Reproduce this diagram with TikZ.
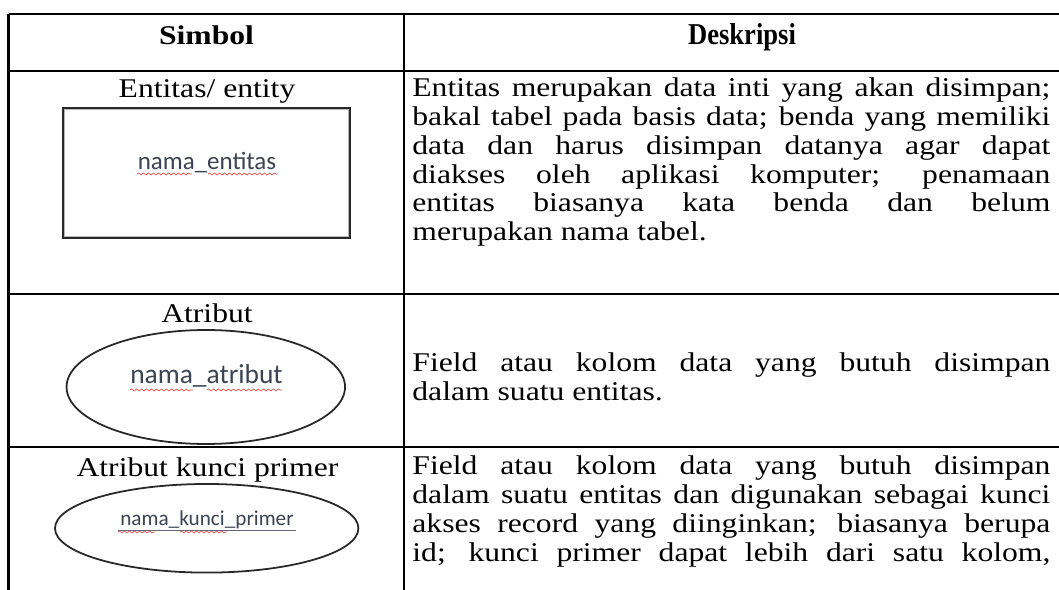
\documentclass[tikz,border=0pt]{standalone}
\usepackage{fontspec}
\usepackage{graphicx}
\setmainfont{Liberation Serif}[FakeStretch=1.17]
\newfontfamily\calibfont{Carlito}
\usetikzlibrary{shapes.geometric,decorations.pathmorphing}
\definecolor{labelink}{RGB}{58,68,82}
\definecolor{spellred}{RGB}{232,70,70}
\definecolor{symline}{RGB}{40,40,40}
\newlength\descw
\setlength\descw{306.75pt}
\newcommand\jline[1]{\makebox[\descw][s]{#1}}
\begin{document}
\begin{tikzpicture}[x=0.4808pt,y=-0.4808pt,
  rule/.style={line width=1.06pt,black},
  head/.style={inner sep=0pt,anchor=base,font=\bfseries\fontsize{13}{15}\selectfont},
  cell/.style={inner sep=0pt,anchor=base west,font=\fontsize{13}{15}\selectfont},
  sym/.style={inner sep=0pt,anchor=base,font=\fontsize{13}{15}\selectfont},
  tag/.style={inner sep=0pt,anchor=base,text=labelink},
  shapeline/.style={draw=symline,line width=0.85pt},
  squig/.style={spellred,line width=0.3pt,decorate,
    decoration={snake,segment length=2.4pt,amplitude=0.5pt}},
  bar/.style={labelink!80,line width=0.45pt},
]
\useasboundingbox (0,0) rectangle (1059,590);
\begin{scope}
\clip (0,0) rectangle (1059,590);

% table rules
\draw[rule] (8.5,14) -- (1100,14);
\draw[rule] (8.5,71) -- (1100,71);
\draw[rule] (8.5,294) -- (1100,294);
\draw[rule] (8.5,447) -- (1100,447);
\draw[rule] (8.5,14) -- (8.5,600);
\draw[rule] (404,14) -- (404,600);

% header
\node[head] (hsym) at (206.5,45) {Simbol};
\node[head] (hdesc) at (742,45) {\scalebox{0.84}[1.12]{Deskripsi}};

% row 1: entity
\node[sym] (t1) at (207,98) {Entitas/ entity};
\node[draw=symline,line width=1.3pt,minimum width=137.5pt,minimum height=62.2pt,inner sep=0pt]
  (ent) at (206.3,173) {};
\draw[gray!55,line width=0.4pt] ([shift={(2.6,2.6)}]ent.north west) rectangle ([shift={(-2.6,-2.6)}]ent.south east);
\node[tag,font=\calibfont\fontsize{12}{14}\selectfont] (entl) at (207,170) {nama\_entitas};
\draw[squig] (137,174) -- (192,174);
\draw[squig] (208,174) -- (278,174);

\node[cell] (d11) at (412,97)    {\jline{Entitas merupakan data inti yang akan disimpan;}};
\node[cell] (d12) at (412,125.7) {\jline{bakal tabel pada basis data; benda yang memiliki}};
\node[cell] (d13) at (412,154.4) {\jline{data dan harus disimpan datanya agar dapat}};
\node[cell] (d14) at (412,183.1) {\jline{diakses oleh aplikasi komputer; penamaan}};
\node[cell] (d15) at (412,211.8) {\jline{entitas biasanya kata benda dan belum}};
\node[cell] (d16) at (412,240.5) {merupakan nama tabel.};

% row 2: attribute
\node[sym] (t2) at (207,323) {Atribut};
\node[shapeline,ellipse,minimum width=133.9pt,minimum height=54.8pt,inner sep=0pt]
  (att) at (205.8,387) {};
\node[tag,font=\calibfont\fontsize{13.2}{15}\selectfont] (attl) at (206.5,384) {nama\_atribut};
\draw[squig] (130,390) -- (193,390);
\draw[squig] (207,390) -- (282,390);

\node[cell] (d21) at (412,372) {\jline{Field atau kolom data yang butuh disimpan}};
\node[cell] (d22) at (412,400.7) {dalam suatu entitas.};

% row 3: primary key attribute
\node[sym] (t3) at (207.5,477) {Atribut kunci primer};
\node[shapeline,ellipse,minimum width=145.9pt,minimum height=42.6pt,inner sep=0pt]
  (pk) at (206.7,528.3) {};
\node[tag,font=\calibfont\fontsize{10.2}{12}\selectfont] (pkl) at (207,526) {nama\_kunci\_primer};
\draw[bar] (118,530) -- (296,530);
\draw[squig] (118,532) -- (155,532);
\draw[squig] (180,532) -- (227,532);

\node[cell] (d31) at (412,475)   {\jline{Field atau kolom data yang butuh disimpan}};
\node[cell] (d32) at (412,503.7) {\jline{dalam suatu entitas dan digunakan sebagai kunci}};
\node[cell] (d33) at (412,532.4) {\jline{akses record yang diinginkan; biasanya berupa}};
\node[cell] (d34) at (412,561.1) {\jline{id; kunci primer dapat lebih dari satu kolom,}};
\end{scope}
\end{tikzpicture}
\end{document}
